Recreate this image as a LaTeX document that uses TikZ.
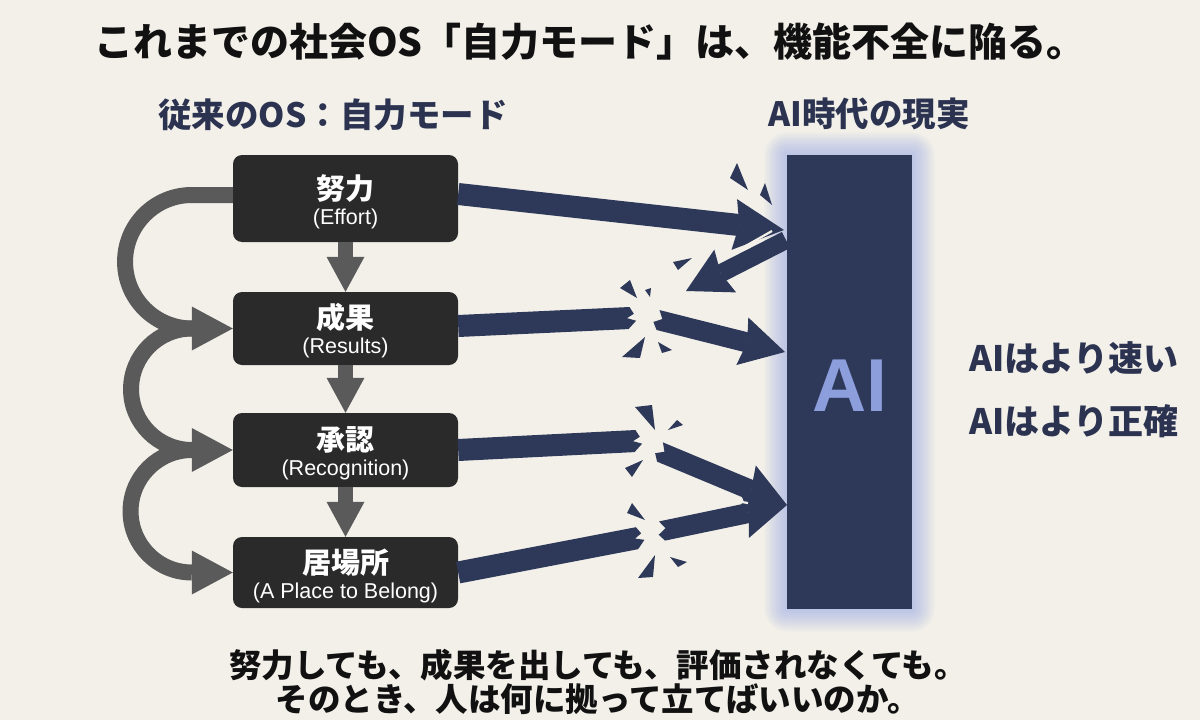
\documentclass[tikz,border=0pt]{standalone}
\usepackage{fontspec}
\usetikzlibrary{arrows.meta,calc}
\newfontfamily\cjk{Noto Sans CJK JP}
\newfontfamily\lat{Liberation Sans}
\definecolor{bg}{HTML}{F2F0E9}
\definecolor{navy}{HTML}{2E395A}
\definecolor{boxc}{HTML}{2A2A2A}
\definecolor{grayc}{HTML}{5A5A5A}
\definecolor{glow}{HTML}{8FA2E6}
\definecolor{ailbl}{HTML}{8D9EDD}
\definecolor{headc}{HTML}{2B3350}
\definecolor{ink}{HTML}{111111}
\tikzset{
 stagebox/.style={fill=boxc, rounded corners=9pt, minimum width=225pt, inner sep=0pt},
 stitle/.style={text=white, font=\cjk\bfseries\fontsize{29}{32}\selectfont, inner sep=0pt},
 ssub/.style={text=white, font=\lat\fontsize{21.5}{25}\selectfont, inner sep=0pt},
 downarrow/.style={draw=grayc, line width=15pt, -{Triangle[length=35pt,width=38pt,line width=0pt]}},
 looparrow/.style={draw=grayc, line width=16pt, -{Triangle[length=41pt,width=44pt,line width=0pt]}},
 navyarrow/.style={draw=navy, line width=#1, -{Stealth[length=44pt,width=49pt,inset=5pt,line width=0pt]}},
 frag/.style={fill=navy},
 slit/.style={draw=bg, line width=2.2pt},
 heading/.style={text=headc, font=\cjk\bfseries\fontsize{33.5}{36}\selectfont, inner sep=0pt},
 claim/.style={text=headc, font=\cjk\bfseries\fontsize{35}{38}\selectfont, inner sep=0pt, anchor=west},
 bottomtxt/.style={text=ink, font=\cjk\bfseries\fontsize{32.5}{36}\selectfont, inner sep=0pt},
}
% first segment of a broken arrow: jagged end at #2
\newcommand\segend[3]{%
 \fill[navy] ($(#1)!#3!90:(#2)$) -- ($(#2)!#3!-90:(#1)$) -- ($(#2)!-4pt!(#1)!4pt!-90:(#1)$)
  -- ($(#2)!3pt!(#1)$) -- ($(#2)!-6pt!(#1)!3pt!90:(#1)$) -- ($(#2)!2pt!(#1)!#3!90:(#1)$)
  -- ($(#1)!#3!-90:(#2)$) -- cycle;}
% second segment of a broken arrow: jagged start at #1, arrow to #2
\newcommand\segstart[4]{%
 \fill[navy] ($(#1)!6pt!(#2)!#3!90:(#2)$) -- ($(#1)!-1pt!(#2)!#3!90:(#2)$) -- ($(#1)!4pt!(#2)!2pt!90:(#2)$)
  -- ($(#1)!-4pt!(#2)!3pt!-90:(#2)$) -- ($(#1)!1pt!(#2)!#3!-90:(#2)$) -- ($(#1)!6pt!(#2)!#3!-90:(#2)$) -- cycle;
 \draw[navyarrow=#4] ($(#1)!5.5pt!(#2)$) -- (#2);}
\begin{document}
\begin{tikzpicture}[x=1pt,y=-1pt]
\useasboundingbox (0,0) rectangle (1200,720);
\fill[bg] (0,0) rectangle (1200,720);

% title and headings
\node[text=ink, font=\cjk\bfseries\fontsize{39}{42}\selectfont, inner sep=0pt] (title) at (590,42) {これまでの社会OS「自力モード」は、機能不全に陥る。};
\node[heading] (hl) at (333,115) {従来のOS：自力モード};
\node[heading] (hr) at (869,114) {AI時代の現実};

% stage boxes
\node[stagebox, minimum height=87pt] (b1) at (345.5,198.5) {};
\node[stagebox, minimum height=73pt] (b2) at (345.5,328.5) {};
\node[stagebox, minimum height=74pt] (b3) at (345.5,450) {};
\node[stagebox, minimum height=71pt] (b4) at (345.5,572.5) {};
\node[stitle] (b1t) at ($(b1.center)+(0,-10)$) {努力};
\node[ssub]   (b1s) at ($(b1.center)+(0,20)$) {(Effort)};
\node[stitle] (b2t) at ($(b2.center)+(0,-11)$) {成果};
\node[ssub]   (b2s) at ($(b2.center)+(0,19)$) {(Results)};
\node[stitle] (b3t) at ($(b3.center)+(0,-10)$) {承認};
\node[ssub]   (b3s) at ($(b3.center)+(0,20)$) {(Recognition)};
\node[stitle] (b4t) at ($(b4.center)+(0,-10)$) {居場所};
\node[ssub]   (b4s) at ($(b4.center)+(0,20)$) {(A Place to Belong)};

% down arrows
\draw[downarrow] (b1.south) -- (b2.north);
\draw[downarrow] (b2.south) -- (b3.north);
\draw[downarrow] (b3.south) -- (b4.north);

% loop arrows
\coordinate (l1) at ($(b1.west)+(0,-3.5)$);
\coordinate (j2) at ($(b2.west)+(-41,0)$);
\coordinate (j3) at ($(b3.west)+(-41,0)$);
\draw[looparrow] (l1) -- ++(-41,0) arc[start angle=-90, end angle=-270, radius=66.75] -- (b2.west);
\draw[looparrow] (j2) arc[start angle=-90, end angle=-270, radius=60.75] -- (b3.west);
\draw[looparrow] (j3) arc[start angle=-90, end angle=-270, radius=61.25] -- (b4.west);

% AI bar with glow
\node[fill=navy, minimum width=125pt, minimum height=454pt, inner sep=0pt] (ai) at (849.5,382) {};
\foreach \i in {1,...,16}
  \fill[glow, opacity=0.04, rounded corners=1.4*\i pt] ($(ai.south west)+(-1.4*\i,1.4*\i)$) rectangle ($(ai.north east)+(1.4*\i,-1.4*\i)$);
\fill[navy] (ai.south west) rectangle (ai.north east);
\node[text=ailbl, font=\lat\bfseries\fontsize{75}{80}\selectfont, inner sep=0pt] (ailbl) at (850,386) {AI};

% claims
\node[claim] (c1) at (969,358) {AIはより速い};
\node[claim] (c2) at (969,421) {AIはより正確};

% navy arrows
\coordinate (a1) at ($(b1.east)+(0,-4.5)$);
\coordinate (t1) at (784,230);
\coordinate (r0) at (786,240);
\coordinate (r1) at (686,291);
\draw[navy, line width=22pt, -{Stealth[length=50pt,width=51pt,inset=5pt,line width=0pt]}] (a1) -- (t1);
\draw[navy, line width=18pt, -{Stealth[length=44pt,width=48pt,inset=5pt,line width=0pt]}] (r0) -- (r1);
\draw[slit] (735,252) -- (772,231);

\coordinate (a2) at ($(b2.east)+(0,-2.5)$);
\coordinate (e2) at (630,318);
\coordinate (s2) at (658,320);
\coordinate (t2) at (785,352);
\segend{a2}{e2}{11pt}
\segstart{s2}{t2}{10pt}{20pt}

\coordinate (a3) at (b3.east);
\coordinate (e3) at (636,441);
\coordinate (s3) at (660,452);
\coordinate (t3) at (787,505);
\segend{a3}{e3}{11pt}
\segstart{s3}{t3}{10pt}{20pt}

\coordinate (a4) at (b4.east);
\coordinate (e4) at (638,538);
\coordinate (s4) at (662,531);
\coordinate (t4) at (787,505);
\segend{a4}{e4}{11pt}
\segstart{s4}{t4}{10pt}{20pt}
\draw[slit] (716,498) -- (748,503);

% fragments
\fill[frag] (730,178) -- (737,163) -- (748,190) -- cycle;
\fill[frag] (760,195) -- (765,183) -- (772,205) -- cycle;
\fill[frag] (673,262) -- (692,258) -- (678,270) -- cycle;
\fill[frag] (620,288) -- (630,280) -- (637,298) -- cycle;
\fill[frag] (645,290) -- (651,288) -- (650,297) -- cycle;
\fill[frag] (622,357) -- (645,337) -- (640,358) -- cycle;
\fill[frag] (658,342) -- (672,350) -- (662,353) -- cycle;
\fill[frag] (635,407) -- (652,405) -- (655,430) -- cycle;
\fill[frag] (668,430) -- (677,420) -- (683,425) -- cycle;
\fill[frag] (625,468) -- (643,460) -- (632,477) -- cycle;
\fill[frag] (627,513) -- (632,503) -- (645,520) -- cycle;
\fill[frag] (638,578) -- (655,555) -- (653,577) -- cycle;
\fill[frag] (670,557) -- (687,562) -- (678,567) -- cycle;

% bottom text
\node[bottomtxt] (q1) at (598,665) {努力しても、成果を出しても、評価されなくても。};
\node[bottomtxt] (q2) at (598,699) {そのとき、人は何に拠って立てばいいのか。};
\end{tikzpicture}
\end{document}
